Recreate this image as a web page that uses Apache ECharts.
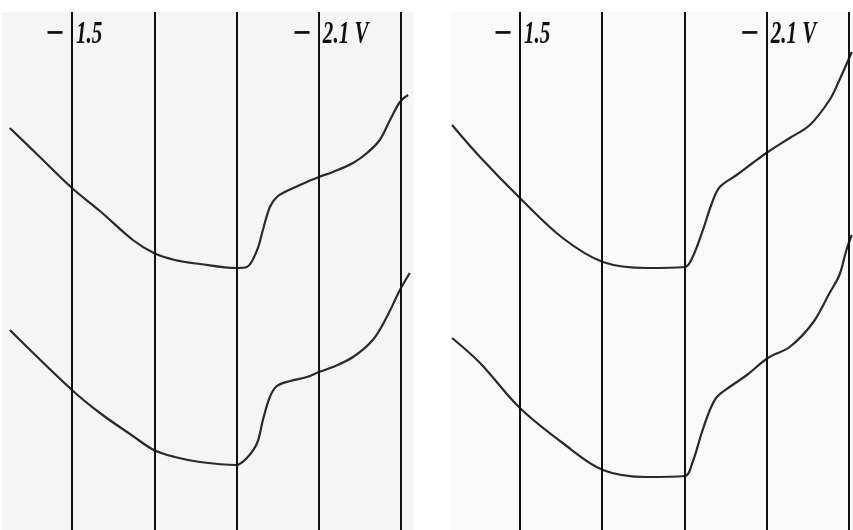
<!DOCTYPE html>
<html><head><meta charset="utf-8">
<script src="https://cdn.jsdelivr.net/npm/echarts@6/dist/echarts.min.js"></script>
<style>html,body{margin:0;padding:0;background:#fff}#c{width:853px;height:530px}</style>
</head><body><div id="c"></div>
<script>
// Potential (−V) of the vertical grid lines
const gridVolts = [1.5, 1.7, 1.9, 2.1, 2.3];
const labelVolts = [1.5, 2.1];
const labelTexts = ['1.5', '2.1 V'];

// Left polarogram, upper trace (x: −E in V, y: current, arbitrary units)
const leftTopV = [1.349,1.422,1.500,1.568,1.648,1.699,1.750,1.811,1.899,1.925,1.950,1.964,1.981,1.998,2.022,2.054,2.100,2.134,2.183,2.217,2.248,2.273,2.297,2.317];
const leftTopI = [402,373,342,319,290,277,270,266,262,263,280,300,323,333,339,345,353,358,367,377,390,410,428,435];
// Left polarogram, lower trace
const leftBotV = [1.349,1.500,1.568,1.648,1.699,1.750,1.811,1.899,1.925,1.950,1.964,1.981,1.998,2.030,2.071,2.100,2.134,2.183,2.231,2.265,2.297,2.321];
const leftBotI = [200,140,117,94,80,73,68,65,72,87,110,133,144,149,153,158,163,173,190,213,240,257];
// Right polarogram, upper trace
const rightTopV = [1.335,1.403,1.500,1.604,1.702,1.809,1.901,1.920,1.945,1.967,1.986,2.027,2.066,2.103,2.156,2.205,2.253,2.277,2.307];
const rightTopI = [405,373,332,292,268,262,263,273,300,327,343,355,367,378,392,405,430,450,478];
// Right polarogram, lower trace
const rightBotV = [1.335,1.403,1.500,1.604,1.702,1.809,1.901,1.920,1.942,1.962,1.979,2.010,2.052,2.103,2.156,2.212,2.253,2.277,2.294,2.307];
const rightBotI = [192,167,122,87,60,53,54,68,97,120,133,143,155,172,183,207,237,255,280,295];

const zip = (a, b) => a.map((v, i) => [v, b[i]]);
const chart = echarts.init(document.getElementById('c'), null, {renderer: 'canvas'});

const grids = [
  {left: 2, top: 12, width: 411.5, bottom: 0, backgroundColor: '#f5f5f5', show: true, borderWidth: 0},
  {left: 450, top: 12, width: 403, bottom: 0, backgroundColor: '#fafafa', show: true, borderWidth: 0}
];
const xAxes = [
  {gridIndex: 0, type: 'value', min: 1.33, max: 2.33, show: false},
  {gridIndex: 1, type: 'value', min: 1.33, max: 2.31, show: false}
];
const yAxes = [
  {gridIndex: 0, type: 'value', min: 0, max: 518, show: false},
  {gridIndex: 1, type: 'value', min: 0, max: 518, show: false}
];
const vLines = {
  silent: true, symbol: 'none', label: {show: false},
  lineStyle: {color: '#111', width: 2, type: 'solid'},
  data: gridVolts.map(v => ({xAxis: v}))
};
function trace(idx, data, withLines) {
  const s = {
    type: 'line', xAxisIndex: idx, yAxisIndex: idx, data: data,
    showSymbol: false, smooth: 0.35, z: 3,
    lineStyle: {color: '#2a2a2a', width: 2.2}
  };
  if (withLines) s.markLine = vLines;
  return s;
}
chart.setOption({
  animation: false,
  backgroundColor: '#ffffff',
  grid: grids, xAxis: xAxes, yAxis: yAxes,
  series: [
    trace(0, zip(leftTopV, leftTopI), true),
    trace(0, zip(leftBotV, leftBotI), false),
    trace(1, zip(rightTopV, rightTopI), true),
    trace(1, zip(rightBotV, rightBotI), false)
  ]
});

const font = 'italic bold 31px "Liberation Serif", serif';
const elements = [];
[0, 1].forEach(g => {
  labelVolts.forEach((v, i) => {
    const px = chart.convertToPixel({xAxisIndex: g}, v);
    elements.push({type: 'text', x: px - 7, y: 34, style: {text: '−', font: 'bold 24px "DejaVu Sans", sans-serif', fill: '#111', align: 'right', verticalAlign: 'middle'}});
    elements.push({type: 'text', x: px + 4, y: 35, scaleX: 0.68, style: {text: labelTexts[i], font: font, fill: '#111', align: 'left', verticalAlign: 'middle'}});
  });
});
chart.setOption({graphic: {elements: elements}});
</script>
</body></html>
